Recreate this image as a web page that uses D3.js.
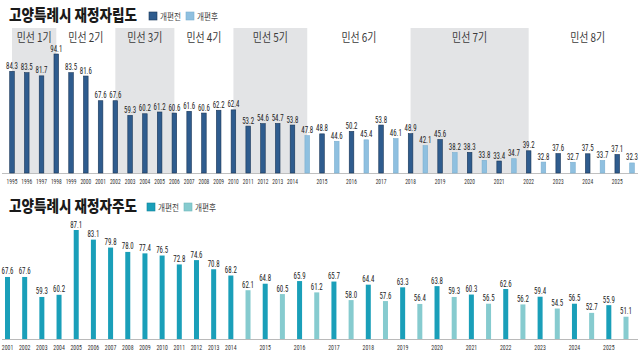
<!DOCTYPE html>
<html><head><meta charset="utf-8">
<script src="https://cdn.jsdelivr.net/npm/d3@7/dist/d3.min.js"></script>
<style>html,body{margin:0;padding:0;background:#fff;}svg{display:block;}</style>
</head><body><svg id="c" width="640" height="357"></svg>
<script>
// ---------- DATA ----------
const srTitle = "고양특례시 재정자립도";
const asTitle = "고양특례시 재정자주도";
const legendLabels = ["개편전", "개편후"];

// 재정자립도 (self-reliance)
const srYears = ["1995","1996","1997","1998","1999","2000","2001","2002","2003","2004","2005","2006","2007","2008","2009","2010","2011","2012","2013","2014","2015","2016","2017","2018","2019","2020","2021","2022","2023","2024","2025"];
const srBefore = [84.3,83.5,81.7,94.1,83.5,81.6,67.6,67.6,59.3,60.2,61.2,60.6,61.6,60.6,62.2,62.4,53.2,54.6,54.7,53.8,48.8,50.2,53.8,48.9,45.6,38.3,33.4,39.2,37.6,37.5,37.1];
const srAfterYears = ["2014","2015","2016","2017","2018","2019","2020","2021","2022","2023","2024","2025"];
const srAfter = [47.8,44.6,45.4,46.1,42.1,38.2,33.8,34.7,32.8,32.7,33.7,32.3];

// 재정자주도 (autonomy)
const asYears = ["2001","2002","2003","2004","2005","2006","2007","2008","2009","2010","2011","2012","2013","2014","2015","2016","2017","2018","2019","2020","2021","2022","2023","2024","2025"];
const asBefore = [67.6,67.6,59.3,60.2,87.1,83.1,79.8,78.0,77.4,76.5,72.8,74.6,70.8,68.2,64.8,65.9,65.7,64.4,63.3,63.8,60.3,62.6,59.4,56.5,55.9];
const asAfterYears = ["2014","2015","2016","2017","2018","2019","2020","2021","2022","2023","2024","2025"];
const asAfter = [62.1,60.5,61.2,58.0,57.6,56.4,59.3,56.5,56.2,54.5,52.7,51.1];

// 민선 terms (start slot keys; "b" = 개편후 slot)
const terms = ["민선 1기","민선 2기","민선 3기","민선 4기","민선 5기","민선 6기","민선 7기","민선 8기"];
const termStarts = ["1995a","1998a","2002a","2006a","2010a","2014b","2018a","2022a"];

// ---------- BUILD SLOTS ----------
function buildSlots(years, before, afterYears, after){
  const slots = [];
  years.forEach((y,i)=>{
    slots.push({key:y+"a", year:y, value:before[i], type:"before"});
    const j = afterYears.indexOf(y);
    if (j >= 0) slots.push({key:y+"b", year:y, value:after[j], type:"after"});
  });
  return slots;
}
const srSlots = buildSlots(srYears, srBefore, srAfterYears, srAfter);
const asSlots = buildSlots(asYears, asBefore, asAfterYears, asAfter);

const svg = d3.select("#c");
svg.append("rect").attr("width",640).attr("height",357).attr("fill","#fff");

const numFont = "'Liberation Sans Narrow','Roboto Condensed','Liberation Sans',Arial,sans-serif";
const krFont = "'Noto Sans CJK KR','Noto Sans',sans-serif";

// ---------- TOP CHART ----------
const xTop = d3.scalePoint().domain(srSlots.map(d=>d.key)).range([12, 632]);
const stepTop = xTop.step();
const yTop = d3.scaleLinear().domain([26.6, 94.1]).range([173, 54]);

// term bands
const gBands = svg.append("g");
terms.forEach((t,i)=>{
  const x0 = xTop(termStarts[i]);
  const x1 = i < terms.length-1 ? xTop(termStarts[i+1]) : xTop(srSlots[srSlots.length-1].key) + stepTop;
  if (i % 2 === 0) {
    gBands.append("rect").attr("x",x0).attr("y",28).attr("width",x1-x0).attr("height",173-28).attr("fill","#e3e4e6");
  }
  gBands.append("text").attr("x",(x0+x1)/2).attr("y",42).attr("text-anchor","middle")
    .attr("font-family",krFont).attr("font-size",12).attr("fill","#3a3a3a")
    .attr("textLength",35).attr("lengthAdjust","spacingAndGlyphs").text(t);
});

// baseline
svg.append("line").attr("x1",2).attr("x2",638).attr("y1",173.5).attr("y2",173.5).attr("stroke","#b0b0b0").attr("stroke-width",0.8);

const topColors = {before:"#2f5c8e", after:"#8fc0e0"};
const topStroke = {before:"#1a3658", after:"#7aaed0"};
const bwTop = 4.6;
const gTop = svg.append("g");
gTop.selectAll("rect").data(srSlots).join("rect")
  .attr("x",d=>xTop(d.key)-bwTop/2).attr("y",d=>yTop(d.value))
  .attr("width",bwTop).attr("height",d=>yTop.range()[0]-yTop(d.value))
  .attr("fill",d=>topColors[d.type]).attr("stroke",d=>topStroke[d.type]).attr("stroke-width",0.6);
gTop.selectAll("text.v").data(srSlots).join("text").attr("class","v")
  .attr("x",d=>xTop(d.key)).attr("y",d=>yTop(d.value)-2.5).attr("text-anchor","middle")
  .attr("font-family",numFont).attr("font-size",8.5).attr("fill","#222")
  .attr("textLength",12).attr("lengthAdjust","spacingAndGlyphs")
  .text(d=>d.value.toFixed(1));
gTop.selectAll("text.yr").data(srSlots.filter(d=>d.type==="before")).join("text").attr("class","yr")
  .attr("x",d=>xTop(d.key)).attr("y",183.5).attr("text-anchor","middle")
  .attr("font-family",numFont).attr("font-size",7.5).attr("fill","#333")
  .attr("textLength",10.8).attr("lengthAdjust","spacingAndGlyphs")
  .text(d=>d.year);

// ---------- BOTTOM CHART ----------
const xBot = d3.scalePoint().domain(asSlots.map(d=>d.key)).range([7.5, 626]);
const yBot = d3.scaleLinear().domain([41.85, 87.1]).range([339, 230]);
svg.append("line").attr("x1",2).attr("x2",638).attr("y1",339.5).attr("y2",339.5).attr("stroke","#a8a8a8").attr("stroke-width",0.8);

const botColors = {before:"#1a9fb9", after:"#86cbcf"};
const bwBot = 5;
const gBot = svg.append("g");
gBot.selectAll("rect").data(asSlots).join("rect")
  .attr("x",d=>xBot(d.key)-bwBot/2).attr("y",d=>yBot(d.value))
  .attr("width",bwBot).attr("height",d=>yBot.range()[0]-yBot(d.value))
  .attr("fill",d=>botColors[d.type]);
gBot.selectAll("text.v").data(asSlots).join("text").attr("class","v")
  .attr("x",d=>xBot(d.key)).attr("y",d=>yBot(d.value)-2.5).attr("text-anchor","middle")
  .attr("font-family",numFont).attr("font-size",8.5).attr("fill","#222")
  .attr("textLength",12).attr("lengthAdjust","spacingAndGlyphs")
  .text(d=>d.value.toFixed(1));
gBot.selectAll("text.yr").data(asSlots.filter(d=>d.type==="before")).join("text").attr("class","yr")
  .attr("x",d=>xBot(d.key)).attr("y",350).attr("text-anchor","middle")
  .attr("font-family",numFont).attr("font-size",8).attr("fill","#333")
  .attr("textLength",11.5).attr("lengthAdjust","spacingAndGlyphs")
  .text(d=>d.year);

// ---------- TITLES & LEGENDS ----------
function titleLegend(title, y, sqX, c1, s1, c2, s2){
  svg.append("text").attr("x",9).attr("y",y).attr("font-family",krFont).attr("font-weight",900)
    .attr("font-size",16).attr("fill","#1a1a1a").attr("textLength",128).attr("lengthAdjust","spacingAndGlyphs").text(title);
  const items = [[c1,s1],[c2,s2]];
  items.forEach((it,i)=>{
    const x = sqX + i*37;
    svg.append("rect").attr("x",x).attr("y",y-9).attr("width",8).attr("height",8)
      .attr("fill",it[0]).attr("stroke",it[1]).attr("stroke-width",0.6);
    svg.append("text").attr("x",x+11).attr("y",y-1.5).attr("font-family",krFont).attr("font-size",9)
      .attr("fill","#444").attr("textLength",21).attr("lengthAdjust","spacingAndGlyphs").text(legendLabels[i]);
  });
}
titleLegend(srTitle, 21, 149, topColors.before, topStroke.before, topColors.after, topStroke.after);
titleLegend(asTitle, 212, 147, botColors.before, "#13849a", botColors.after, "#6fb8bc");
</script></body></html>
